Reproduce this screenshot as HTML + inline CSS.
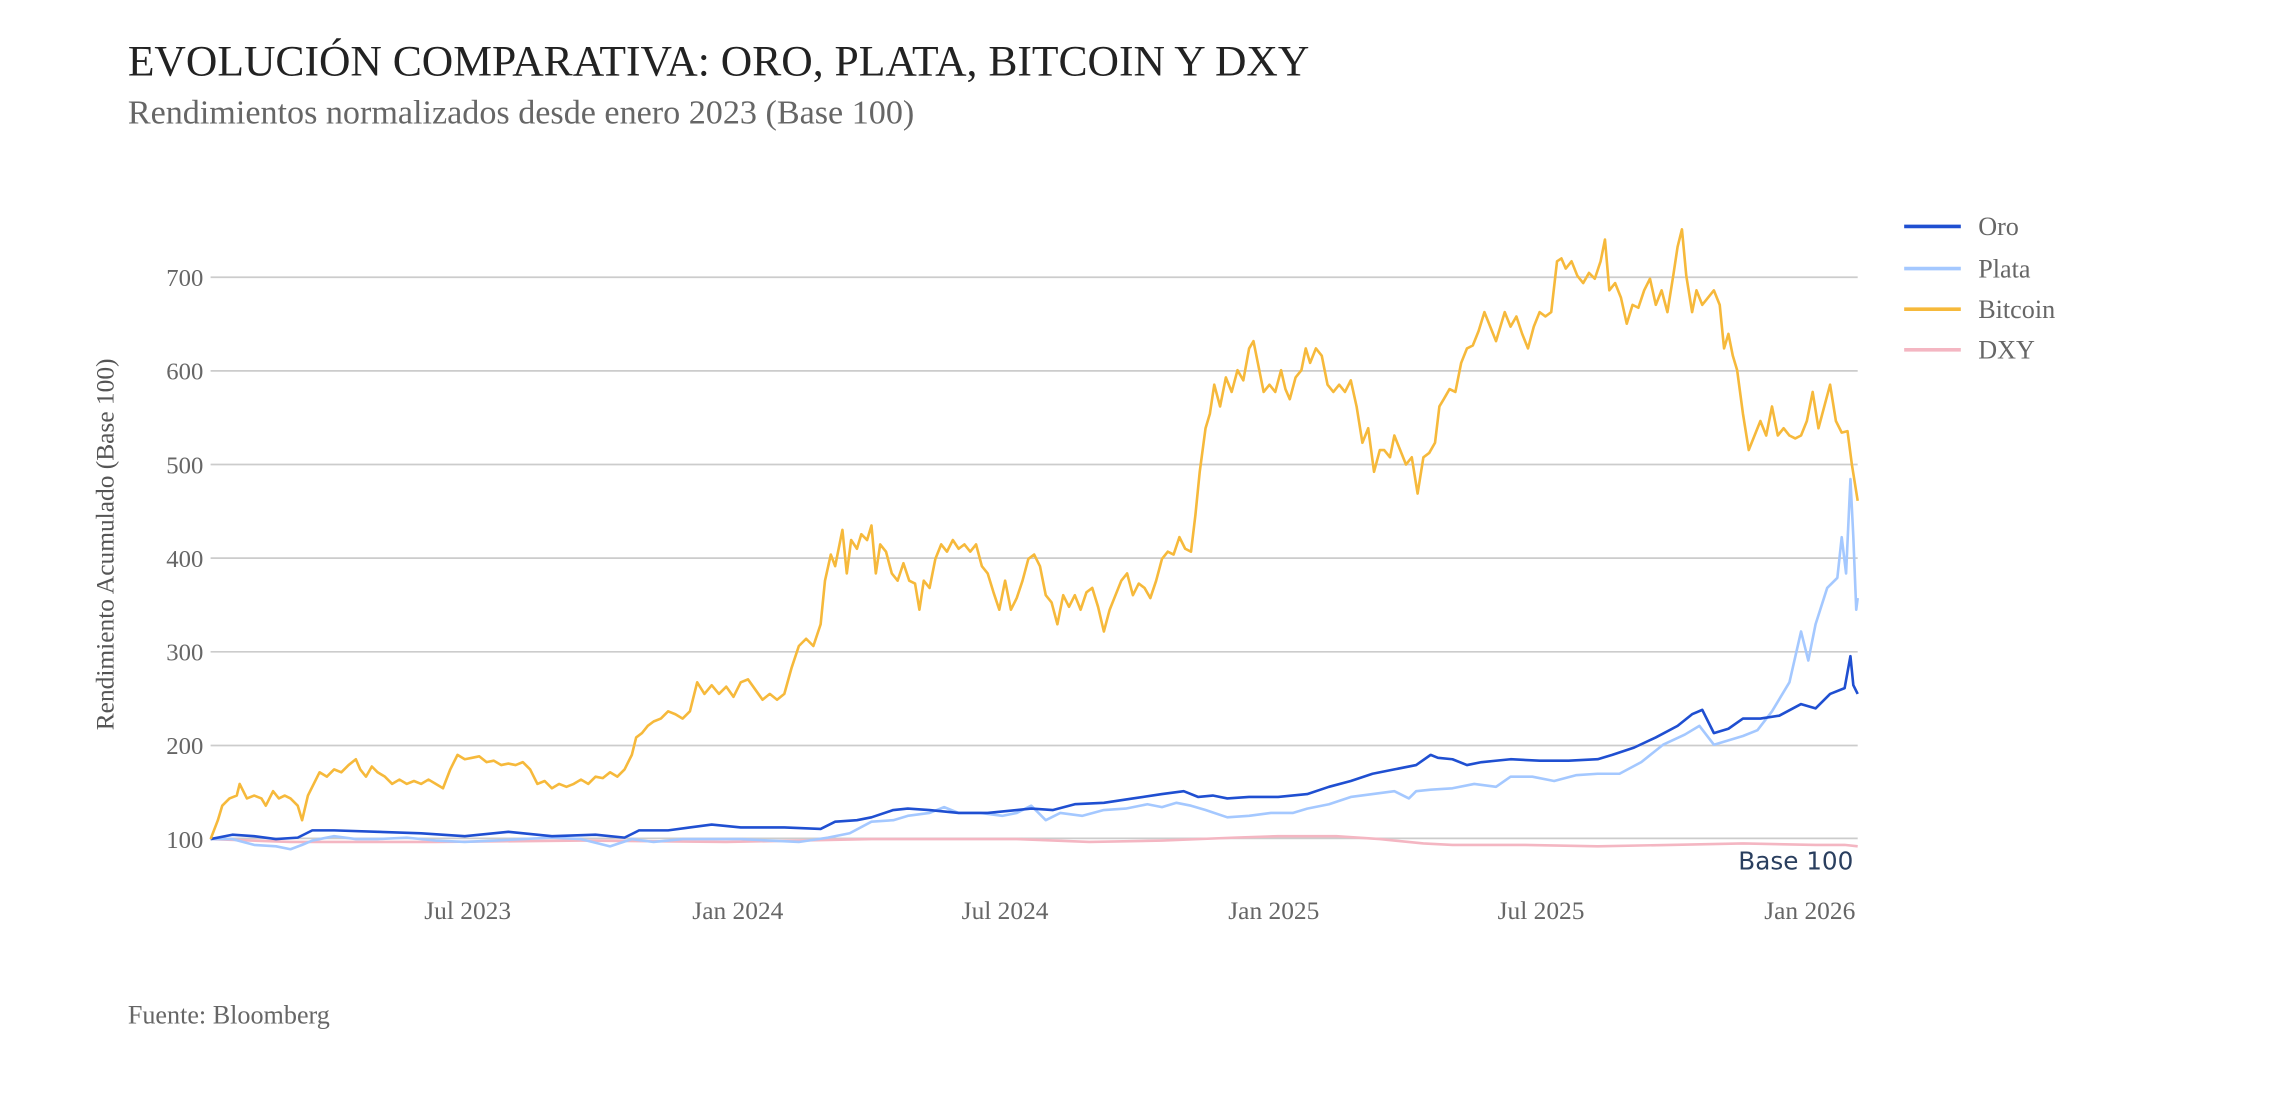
<!DOCTYPE html>
<html><head><meta charset="utf-8"><style>
html,body{margin:0;padding:0;background:#fff;}
svg{display:block;}
text{font-family:"Liberation Serif",serif;}
</style></head><body>
<svg width="2276" height="1112" viewBox="0 0 1567 766" preserveAspectRatio="none" xmlns="http://www.w3.org/2000/svg">
<rect width="1567" height="766" fill="#fff"/>
<text x="88" y="52" font-size="30" fill="#222">EVOLUCIÓN COMPARATIVA: ORO, PLATA, BITCOIN Y DXY</text>
<text x="88" y="85" font-size="23.5" fill="#666">Rendimientos normalizados desde enero 2023 (Base 100)</text>
<g stroke="#cccccc" stroke-width="1.2">
<line x1="145" x2="1279" y1="191" y2="191"/>
<line x1="145" x2="1279" y1="255.5" y2="255.5"/>
<line x1="145" x2="1279" y1="320" y2="320"/>
<line x1="145" x2="1279" y1="384.5" y2="384.5"/>
<line x1="145" x2="1279" y1="449" y2="449"/>
<line x1="145" x2="1279" y1="513.5" y2="513.5"/>
<line x1="145" x2="1279" y1="577.5" y2="577.5"/>
</g>
<g font-size="17" fill="#666" text-anchor="end">
<text x="140" y="197">700</text><text x="140" y="261.5">600</text><text x="140" y="326">500</text>
<text x="140" y="390.5">400</text><text x="140" y="455">300</text><text x="140" y="519.5">200</text><text x="140" y="584">100</text>
</g>
<g font-size="17.5" fill="#666" text-anchor="middle">
<text x="322" y="633">Jul 2023</text><text x="508" y="633">Jan 2024</text><text x="692" y="633">Jul 2024</text>
<text x="877" y="633">Jan 2025</text><text x="1061" y="633">Jul 2025</text><text x="1246" y="633">Jan 2026</text>
</g>
<text transform="translate(78,375) rotate(-90)" font-size="17.5" fill="#555" text-anchor="middle">Rendimiento Acumulado (Base 100)</text>
<g fill="none" stroke-linejoin="round" stroke-width="1.8">
<polyline stroke="#f4b6c2" points="145,578 200,580 300,580 400,579 500,580 600,578 700,578 750,580 800,579 850,577 880,576 920,576 950,578 980,581 1000,582 1050,582 1100,583 1150,582 1200,581 1250,582 1270,582 1279,583"/>
<polyline stroke="#a4c8ff" points="145,578 160,578 175,582 190,583 200,585 208,582 215,579 230,576 245,578 260,578 280,577 300,579 320,580 340,579 360,578 380,577 400,578 420,583 435,578 450,580 470,578 490,578 510,578 530,579 550,580 570,577 585,574 600,566 615,565 625,562 640,560 650,556 660,560 675,560 690,562 700,560 710,555 720,565 730,560 745,562 760,558 775,557 790,554 800,556 810,553 820,555 830,558 845,563 860,562 875,560 890,560 900,557 915,554 930,549 945,547 960,545 970,550 975,545 985,544 1000,543 1015,540 1030,542 1040,535 1055,535 1070,538 1085,534 1100,533 1115,533 1130,525 1145,513 1160,506 1170,500 1180,513 1190,510 1200,507 1210,503 1220,490 1232,470 1240,435 1245,455 1250,430 1258,405 1265,398 1268,370 1271,395 1274,330 1276,370 1278,420 1279,412"/>
<polyline stroke="#1f4fd1" points="145,578 160,575 175,576 190,578 205,577 215,572 230,572 260,573 290,574 320,576 350,573 380,576 410,575 430,577 440,572 460,572 475,570 490,568 510,570 540,570 565,571 575,566 590,565 600,563 615,558 625,557 640,558 660,560 680,560 700,558 710,557 725,558 740,554 760,553 780,550 800,547 815,545 825,549 835,548 845,550 860,549 880,549 900,547 915,542 930,538 945,533 960,530 975,527 985,520 990,522 1000,523 1010,527 1020,525 1040,523 1060,524 1080,524 1100,523 1110,520 1125,515 1140,508 1155,500 1165,492 1172,489 1180,505 1190,502 1200,495 1212,495 1225,493 1240,485 1250,488 1260,478 1270,474 1274,452 1276,472 1279,478"/>
<polyline stroke="#f6b93b" points="145,578 150,565 153,555 158,550 163,548 165,540 170,550 175,548 180,550 183,555 188,545 192,550 196,548 200,550 205,555 208,565 212,548 216,540 220,532 225,535 230,530 235,532 240,527 245,523 248,530 252,535 256,528 260,532 265,535 270,540 275,537 280,540 285,538 290,540 295,537 300,540 305,543 310,530 315,520 320,523 325,522 330,521 335,525 340,524 345,527 350,526 355,527 360,525 365,530 370,540 375,538 380,543 385,540 390,542 395,540 400,537 405,540 410,535 415,536 420,532 425,535 430,530 435,520 438,508 442,505 446,500 450,497 455,495 460,490 465,492 470,495 475,490 480,470 485,478 490,472 495,478 500,473 505,480 510,470 515,468 520,475 525,482 530,478 535,482 540,478 545,460 550,445 555,440 560,445 565,430 568,400 572,382 575,390 578,375 580,365 583,395 586,372 590,378 593,368 597,372 600,362 603,395 606,375 610,380 614,395 618,400 622,388 626,400 630,402 633,420 636,400 640,405 644,385 648,375 652,380 656,372 660,378 664,375 668,380 672,375 676,390 680,395 684,408 688,420 692,400 696,420 700,412 704,400 708,385 712,382 716,390 720,410 724,415 728,430 732,410 736,418 740,410 744,420 748,408 752,405 756,418 760,435 764,420 768,410 772,400 776,395 780,410 784,402 788,405 792,412 796,400 800,385 804,380 808,382 812,370 816,378 820,380 823,355 826,325 830,295 833,285 836,265 840,280 844,260 848,270 852,255 856,262 860,240 863,235 866,250 870,270 874,265 878,270 882,255 885,268 888,275 892,260 896,255 899,240 902,250 906,240 910,245 914,265 918,270 922,265 926,270 930,262 934,280 938,305 942,295 946,325 950,310 953,310 957,315 960,300 964,310 968,320 972,315 976,340 980,315 984,312 988,305 991,280 994,275 998,268 1002,270 1006,250 1010,240 1014,238 1018,228 1022,215 1026,225 1030,235 1033,225 1036,215 1040,225 1044,218 1048,230 1052,240 1056,225 1060,215 1064,218 1068,215 1072,180 1075,178 1078,185 1082,180 1086,190 1090,195 1094,188 1098,192 1102,180 1105,165 1108,200 1112,195 1116,205 1120,223 1124,210 1128,212 1132,200 1136,192 1140,210 1144,200 1148,215 1152,190 1155,170 1158,158 1161,190 1165,215 1168,200 1172,210 1176,205 1180,200 1184,210 1187,240 1190,230 1193,245 1196,255 1200,285 1204,310 1208,300 1212,290 1216,300 1220,280 1224,300 1228,295 1232,300 1236,302 1240,300 1244,290 1248,270 1252,295 1256,280 1260,265 1264,290 1268,298 1272,297 1275,320 1279,345"/>
</g>
<text x="1276" y="599" style="font-family:'DejaVu Sans',sans-serif" font-size="17" fill="#2a3f5f" text-anchor="end">Base 100</text>
<g stroke-width="2.5">
<line x1="1311" x2="1350" y1="156" y2="156" stroke="#1f4fd1"/>
<line x1="1311" x2="1350" y1="185" y2="185" stroke="#a4c8ff"/>
<line x1="1311" x2="1350" y1="213" y2="213" stroke="#f6b93b"/>
<line x1="1311" x2="1350" y1="241" y2="241" stroke="#f4b6c2"/>
</g>
<g font-size="18" fill="#666">
<text x="1362" y="162">Oro</text><text x="1362" y="191">Plata</text><text x="1362" y="219">Bitcoin</text><text x="1362" y="247">DXY</text>
</g>
<text x="88" y="705" font-size="18" fill="#666">Fuente: Bloomberg</text>
</svg>
</body></html>
